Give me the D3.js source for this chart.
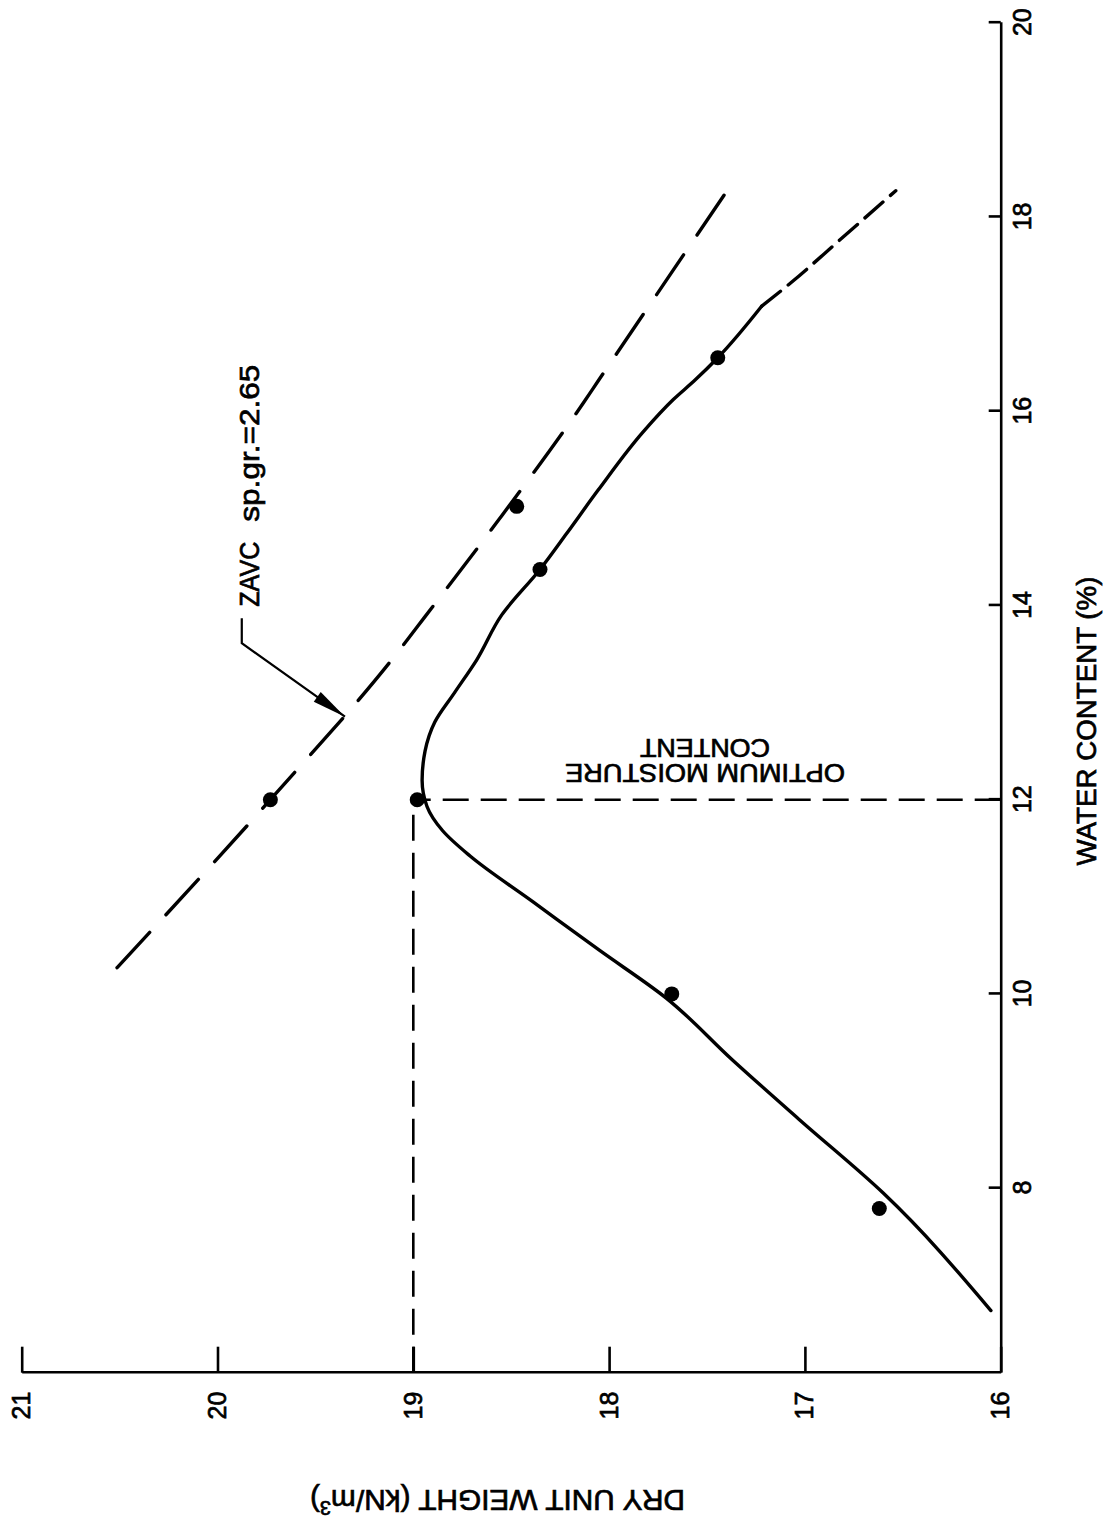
<!DOCTYPE html>
<html>
<head>
<meta charset="utf-8">
<script src="https://cdn.jsdelivr.net/npm/d3@7"></script>
<style>
  html, body { margin: 0; padding: 0; background: #fff; }
  svg { display: block; }
  text { font-family: "Liberation Sans", Arial, Helvetica, sans-serif; fill: #000; stroke: #000; stroke-width: 0.7px; }
</style>
</head>
<body>
<svg id="chart" width="1108" height="1523"></svg>
<script>
// Axis ticks
const waterTicks = [8, 10, 12, 14, 16, 18, 20];      // water content, %
const dryTicks   = [16, 17, 18, 19, 20, 21];          // dry unit weight, kN/m³

// Compaction test results
const testWater = [7.79, 10.0, 12.0, 14.37, 15.02, 16.55];
const testDry   = [16.62, 17.68, 18.98, 18.353, 18.472, 17.445];

// Point marked on the zero-air-voids curve
const zavcPointWater = [12.0];
const zavcPointDry   = [19.73];

// Compaction curve drawn through the results (solid part)
const curveWater = [6.74, 7.95, 8.70, 9.32, 9.96, 10.45, 10.95, 11.42, 11.68, 11.93, 12.2, 12.5, 12.8, 13.1, 13.44, 13.90, 14.37, 14.74, 15.19, 15.79, 16.12, 16.32, 16.55, 17.08];
const curveDry   = [16.05, 16.60, 17.025, 17.37, 17.71, 18.05, 18.39, 18.71, 18.85, 18.93, 18.955, 18.94, 18.89, 18.79, 18.676, 18.549, 18.353, 18.217, 18.055, 17.825, 17.672, 17.561, 17.445, 17.221];

// Extrapolated wet-side part of the curve (dashed)
const extWater = [17.08, 17.33, 17.75, 18.27];
const extDry   = [17.221, 17.067, 16.829, 16.536];

// Zero air voids curve, Gs = 2.65
const zavcWater = [10.27, 12.0, 13.46, 13.885, 14.9, 16.09, 16.29, 18.39];
const zavcDry   = [20.513, 19.73, 19.102, 18.94, 18.557, 18.13, 18.063, 17.357];

// Optimum moisture content and maximum dry unit weight
const optimumWater = 12.0;
const maxDryWeight = 19.0;

// ZAVC callout leader: label end, elbow, arrow tip
const leaderWater = [13.868, 13.611, 12.855];
const leaderDry   = [19.876, 19.876, 19.349];

const svg = d3.select("#chart");

// The plot is laid out in its own frame (water content across, dry unit
// weight up) and then turned a quarter turn counter-clockwise on the sheet.
const W = 1350, H = 979;
const x = d3.scaleLinear().domain([6.1, 20]).range([0, W]);
const y = d3.scaleLinear().domain([21, 16]).range([0, H]);

const g = svg.append("g").attr("transform", "translate(21.7,1372.7) rotate(-90)");

const font = '"Liberation Sans", Arial, Helvetica, sans-serif';

// Water content axis (sheet right side)
const xAxis = g.append("g")
  .attr("transform", `translate(0,${H})`)
  .call(d3.axisBottom(x).tickValues(waterTicks).tickSizeInner(-12).tickSizeOuter(0).tickPadding(13).tickFormat(d3.format("d")));

// Dry unit weight axis (sheet bottom)
const yAxis = g.append("g")
  .call(d3.axisLeft(y).tickValues(dryTicks).tickSizeInner(-26).tickSizeOuter(0).tickPadding(19).tickFormat(d3.format("d")));

[xAxis, yAxis].forEach(a => {
  a.attr("font-family", font).attr("font-size", 25);
  a.select(".domain").attr("stroke", "#000").attr("stroke-width", 2.6);
  a.selectAll(".tick line").attr("stroke", "#000").attr("stroke-width", 2.6);
  a.selectAll(".tick text").attr("fill", "#000");
});

// Optimum moisture content / maximum dry unit weight guides
g.append("line")
  .attr("x1", x(6.1)).attr("x2", x(optimumWater))
  .attr("y1", y(maxDryWeight)).attr("y2", y(maxDryWeight))
  .attr("stroke", "#000").attr("stroke-width", 2.6)
  .attr("stroke-dasharray", "26,12");
g.append("line")
  .attr("x1", x(optimumWater)).attr("x2", x(optimumWater))
  .attr("y1", y(16)).attr("y2", y(maxDryWeight))
  .attr("stroke", "#000").attr("stroke-width", 2.6)
  .attr("stroke-dasharray", "26,12");

const line = d3.line().x(d => x(d[0])).y(d => y(d[1])).curve(d3.curveMonotoneX);

// Zero air voids curve
g.append("path")
  .datum(d3.zip(zavcWater, zavcDry))
  .attr("d", line)
  .attr("fill", "none").attr("stroke", "#000").attr("stroke-width", 3.4)
  .attr("stroke-linecap", "round")
  .attr("stroke-dasharray", "48,24");

// Compaction curve
g.append("path")
  .datum(d3.zip(curveWater, curveDry))
  .attr("d", line)
  .attr("fill", "none").attr("stroke", "#000").attr("stroke-width", 3.4)
  .attr("stroke-linecap", "round").attr("stroke-linejoin", "round");

g.append("path")
  .datum(d3.zip(extWater, extDry))
  .attr("d", line)
  .attr("fill", "none").attr("stroke", "#000").attr("stroke-width", 3.4)
  .attr("stroke-linecap", "round")
  .attr("stroke-dasharray", "24,10");

// Test points
g.selectAll("circle.test")
  .data(d3.zip(testWater, testDry))
  .join("circle").attr("class", "test")
  .attr("cx", d => x(d[0])).attr("cy", d => y(d[1])).attr("r", 7.5).attr("fill", "#000");

g.selectAll("circle.zavc")
  .data(d3.zip(zavcPointWater, zavcPointDry))
  .join("circle").attr("class", "zavc")
  .attr("cx", d => x(d[0])).attr("cy", d => y(d[1])).attr("r", 7.5).attr("fill", "#000");

// ZAVC callout with arrow
const defs = svg.append("defs");
defs.append("marker")
  .attr("id", "arrow").attr("markerUnits", "userSpaceOnUse")
  .attr("viewBox", "-36 -7 36 14").attr("refX", 0).attr("refY", 0)
  .attr("markerWidth", 36).attr("markerHeight", 14).attr("orient", "auto")
  .append("path").attr("d", "M0,0 L-34,-6 L-34,6 Z").attr("fill", "#000");

g.append("path")
  .datum(d3.zip(leaderWater, leaderDry))
  .attr("d", d3.line().x(d => x(d[0])).y(d => y(d[1])))
  .attr("fill", "none").attr("stroke", "#000").attr("stroke-width", 2.2)
  .attr("marker-end", "url(#arrow)");

g.append("text")
  .attr("x", 766).attr("y", 237.6)
  .attr("font-size", 28)
  .attr("textLength", 65).attr("lengthAdjust", "spacingAndGlyphs")
  .text("ZAVC");
g.append("text")
  .attr("x", 851).attr("y", 237.6)
  .attr("font-size", 28)
  .attr("textLength", 157).attr("lengthAdjust", "spacingAndGlyphs")
  .text("sp.gr.=2.65");

// Optimum moisture content label (reads along the guide)
const opt = g.append("g").attr("transform", "translate(0,683.3)");
opt.append("text")
  .attr("transform", "translate(608.7,0) rotate(-90)")
  .attr("text-anchor", "middle").attr("font-size", 25)
  .attr("textLength", 280).attr("lengthAdjust", "spacingAndGlyphs")
  .text("OPTIMUM MOISTURE");
opt.append("text")
  .attr("transform", "translate(633.7,0) rotate(-90)")
  .attr("text-anchor", "middle").attr("font-size", 25)
  .attr("textLength", 130).attr("lengthAdjust", "spacingAndGlyphs")
  .text("CONTENT");

// Axis titles
g.append("text")
  .attr("x", 651.7).attr("y", 1074.3)
  .attr("text-anchor", "middle").attr("font-size", 27)
  .attr("textLength", 289).attr("lengthAdjust", "spacingAndGlyphs")
  .text("WATER  CONTENT  (%)");

const yTitle = g.append("text")
  .attr("transform", "translate(-117.3,475.8) rotate(-90)")
  .attr("text-anchor", "middle").attr("font-size", 30)
  .attr("textLength", 375).attr("lengthAdjust", "spacingAndGlyphs");
yTitle.append("tspan").text("DRY  UNIT  WEIGHT  (kN/m");
yTitle.append("tspan").attr("font-size", 20).attr("dy", -11).text("3");
yTitle.append("tspan").attr("dy", 11).text(")");
</script>
</body>
</html>
